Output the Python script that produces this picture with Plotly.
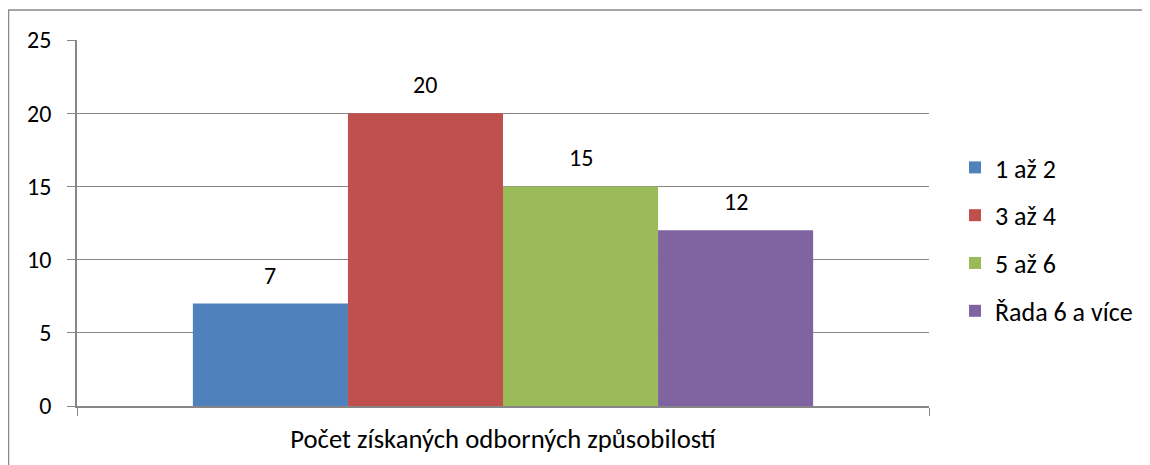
import plotly.graph_objects as go

category = ["Počet získaných odborných způsobilostí"]
series_names = ["1 až 2", "3 až 4", "5 až 6", "Řada 6 a více"]
series_values = [7, 20, 15, 12]
series_colors = ["#4F81BD", "#C0504D", "#9BBB59", "#8064A2"]
y_ticks = [0, 5, 10, 15, 20, 25]

# page has an 8px body margin, so the figure is drawn 8px smaller and positions shifted
OFF = 8
W, H = 1150 - OFF, 465 - OFF
L, T = 77 - OFF, 40 - OFF
R = W - (929 - OFF)
B = H - (406 - OFF)
pw, ph = W - L - R, H - T - B
GAP = 0.272

fig = go.Figure()
for i, (name, val, col) in enumerate(zip(series_names, series_values, series_colors)):
    fig.add_trace(go.Bar(
        x=category, y=[val], name=name, marker=dict(color=col, line=dict(width=0)),
        legendgroup=f"g{i}",
    ))

# value labels above each bar (group of n bars within 1 - bargap of the category)
n = len(series_values)
bw = (1 - GAP) / n
for i, val in enumerate(series_values):
    fig.add_annotation(x=-(1 - GAP) / 2 + bw * (i + 0.5), y=val, text=str(val),
                       showarrow=False, yanchor="bottom", yshift=12,
                       font=dict(size=24, color="#000000"))

axis_gray = "#868686"


def px_x(p):
    return (p - OFF - L) / pw


def px_y(p):
    return (H - B - (p - OFF)) / ph


fig.update_layout(
    width=W, height=H,
    margin=dict(l=L, r=R, t=T, b=B, autoexpand=False),
    barmode="group", bargap=GAP, bargroupgap=0,
    plot_bgcolor="white", paper_bgcolor="white",
    font=dict(family="Carlito, Lato, sans-serif", size=24, color="#000000"),
    showlegend=True,
    legend=dict(x=px_x(955), y=px_y(144), xanchor="left", yanchor="top",
                traceorder="grouped", tracegroupgap=11, font=dict(size=26),
                bgcolor="rgba(0,0,0,0)"),
    xaxis=dict(type="category", tickson="boundaries", ticks="outside", ticklen=8,
               tickcolor=axis_gray, showline=True, linecolor=axis_gray, linewidth=1.5,
               showgrid=False, ticklabelstandoff=8, tickfont=dict(size=26.7)),
    yaxis=dict(range=[0, 25], tickvals=y_ticks, ticks="outside", ticklen=8,
               tickcolor=axis_gray, showline=True, linecolor=axis_gray, linewidth=1.5,
               showgrid=True, gridcolor=axis_gray, gridwidth=1, zeroline=False,
               ticklabelstandoff=11),
    shapes=[
        dict(type="line", xref="paper", yref="paper", x0=px_x(8), x1=px_x(1150),
             y0=px_y(10), y1=px_y(10), line=dict(color="#898989", width=1.5)),
        dict(type="line", xref="paper", yref="paper", x0=px_x(8.5), x1=px_x(8.5),
             y0=px_y(10), y1=px_y(465), line=dict(color="#898989", width=1.5)),
    ],
)

fig.write_html("out.html")
